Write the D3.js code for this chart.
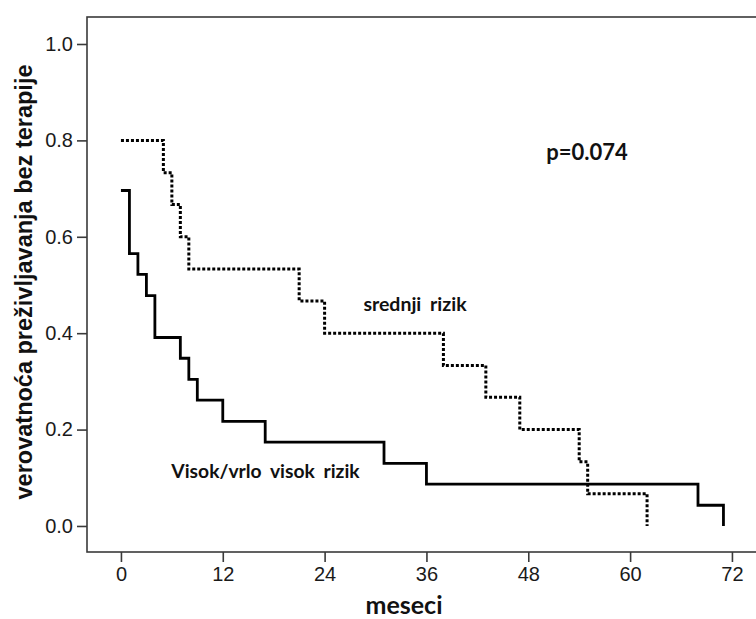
<!DOCTYPE html>
<html>
<head>
<meta charset="utf-8">
<script src="https://cdn.jsdelivr.net/npm/d3@7"></script>
<style>
  html, body { margin: 0; padding: 0; background: #fff; }
  svg { display: block; }
</style>
</head>
<body>
<svg id="chart" width="756" height="619"></svg>
<script>
// ---- data ----
const srednjiTime = [0, 5, 6, 7, 8, 21, 24, 38, 43, 47, 54, 55, 62];
const srednjiSurv = [0.8, 0.733, 0.667, 0.6, 0.533, 0.467, 0.4, 0.333, 0.267, 0.2, 0.133, 0.067, 0.0];

const visokTime = [0, 1, 2, 3, 4, 7, 8, 9, 12, 17, 31, 36, 68, 71];
const visokSurv = [0.696, 0.565, 0.522, 0.478, 0.391, 0.348, 0.304, 0.261, 0.217, 0.174, 0.13, 0.087, 0.043, 0.0];

const xTicks = [0, 12, 24, 36, 48, 60, 72];
const yTicks = [0.0, 0.2, 0.4, 0.6, 0.8, 1.0];

const xTitle = "meseci";
const yTitle = "verovatnoća preživljavanja bez terapije";
const pLabel = "p=0.074";
const srednjiLabel = "srednji rizik";
const visokLabel = "Visok/vrlo visok rizik";

// ---- layout ----
const svg = d3.select("#chart");
const plotLeft = 87, plotTop = 17, plotBottom = 552;

const x = d3.scaleLinear().domain([-4, 76]).range([87, 87 + 80 * 8.486]);
const y = d3.scaleLinear().domain([-0.054, 1.056]).range([plotBottom, plotTop]);

// frame
svg.append("rect")
  .attr("x", plotLeft).attr("y", plotTop)
  .attr("width", x(76) - plotLeft).attr("height", plotBottom - plotTop)
  .attr("fill", "none").attr("stroke", "#3a3a3a").attr("stroke-width", 1.6);

// axes
const yAxis = d3.axisLeft(y).tickValues(yTicks).tickFormat(d3.format(".1f")).tickSize(10).tickPadding(4);
const gy = svg.append("g").attr("transform", `translate(${plotLeft},0)`).call(yAxis);
gy.select(".domain").remove();
gy.selectAll(".tick line").attr("stroke", "#3a3a3a").attr("stroke-width", 1.6);
gy.selectAll(".tick text").attr("font-family", "'Liberation Sans', Arial, sans-serif")
  .attr("font-size", 20).attr("fill", "#1a1a1a");

const xAxis = d3.axisBottom(x).tickValues(xTicks).tickFormat(d3.format("d")).tickSize(10).tickPadding(5);
const gx = svg.append("g").attr("transform", `translate(0,${plotBottom})`).call(xAxis);
gx.select(".domain").remove();
gx.selectAll(".tick line").attr("stroke", "#3a3a3a").attr("stroke-width", 1.6);
gx.selectAll(".tick text").attr("font-family", "'Liberation Sans', Arial, sans-serif")
  .attr("font-size", 20).attr("fill", "#1a1a1a");

// curves
const line = d3.line().x(d => x(d[0])).y(d => y(d[1])).curve(d3.curveStepAfter);

svg.append("path")
  .datum(srednjiTime.map((t, i) => [t, srednjiSurv[i]]))
  .attr("d", line).attr("fill", "none").attr("stroke", "#000")
  .attr("stroke-width", 3).attr("stroke-dasharray", "3,2");

svg.append("path")
  .datum(visokTime.map((t, i) => [t, visokSurv[i]]))
  .attr("d", line).attr("fill", "none").attr("stroke", "#000")
  .attr("stroke-width", 2.8);

// titles
svg.append("text")
  .attr("transform", "translate(32,282) rotate(-90)")
  .attr("text-anchor", "middle")
  .attr("font-family", "'Liberation Sans', Arial, sans-serif")
  .attr("font-weight", "bold").attr("font-size", 23.5).attr("fill", "#111")
  .text(yTitle);

const annFont = "Lato, 'Open Sans', sans-serif";
svg.append("text")
  .attr("x", 404).attr("y", 614).attr("text-anchor", "middle")
  .attr("font-family", annFont).attr("font-weight", "bold").attr("font-size", 25).attr("fill", "#111")
  .text(xTitle);

svg.append("text")
  .attr("x", 587).attr("y", 160).attr("text-anchor", "middle")
  .attr("font-family", annFont).attr("font-weight", "bold").attr("font-size", 22).attr("fill", "#111")
  .text(pLabel);

svg.append("text")
  .attr("x", 415).attr("y", 311).attr("text-anchor", "middle")
  .attr("font-family", annFont).attr("font-weight", "bold").attr("font-size", 19.5).attr("fill", "#111")
  .attr("word-spacing", 4)
  .text(srednjiLabel);

svg.append("text")
  .attr("x", 265.5).attr("y", 478).attr("text-anchor", "middle")
  .attr("font-family", annFont).attr("font-weight", "bold").attr("font-size", 19.3).attr("fill", "#111")
  .attr("word-spacing", 4)
  .text(visokLabel);
</script>
</body>
</html>
